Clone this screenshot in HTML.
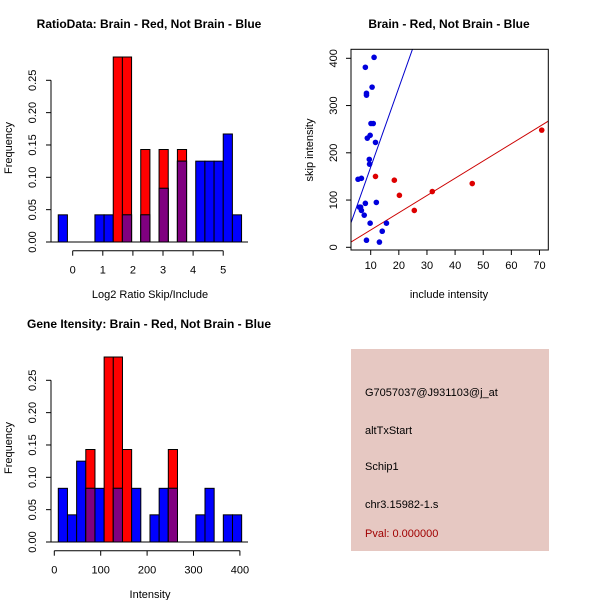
<!DOCTYPE html>
<html><head><meta charset="utf-8"><style>
body{margin:0;background:#fff}
svg{display:block;font-family:"Liberation Sans",sans-serif}
</style></head><body>
<svg id="c" width="600" height="600" xmlns="http://www.w3.org/2000/svg">
<rect width="600" height="600" fill="#fff"/>
<g id="p1"></g>
<g id="p2"></g>
<g id="p3"></g>
<g id="p4">
<rect x="351" y="349" width="198" height="202" fill="#E6C8C2"/>
<text x="365" y="396" font-size="11">G7057037@J931103@j_at</text>
<text x="365" y="434" font-size="11">altTxStart</text>
<text x="365" y="470" font-size="11">Schip1</text>
<text x="365" y="508" font-size="11">chr3.15982-1.s</text>
<text x="365" y="537" font-size="11" fill="#A00000">Pval: 0.000000</text>
</g>
</svg>
<script>
// Histogram 1 data
const h1Start = -0.48, h1Width = 0.3045;
const h1Blue = [0.042,0,0,0,0.042,0.042,0,0.042,0,0.042,0,0.083,0,0.125,0,0.125,0.125,0.125,0.167,0.042];
const h1Red  = [0,0,0,0,0,0,0.286,0.286,0,0.143,0,0.143,0,0.143,0,0,0,0,0,0];
const h1XTicks = [0,1,2,3,4,5];
const yTicks = [0,0.05,0.10,0.15,0.20,0.25];
const yTickLabels = ["0.00","0.05","0.10","0.15","0.20","0.25"];
// Histogram 3 data
const h3Start = 8.6, h3Width = 19.76;
const h3Blue = [0.083,0.042,0.125,0.083,0.083,0,0.083,0,0.083,0,0.042,0.083,0.083,0,0,0.042,0.083,0,0.042,0.042];
const h3Red  = [0,0,0,0.143,0,0.286,0.286,0.143,0,0,0,0,0.143,0,0,0,0,0,0,0];
const h3XTicks = [0,100,200,300,400];
// Scatter data
const blueX = [11.2,8.1,10.5,8.5,8.5,10.1,10.9,9.8,8.8,11.7,9.5,9.6,5.5,6.7,8.1,12.0,6.0,6.4,6.7,7.7,9.8,15.6,14.1,8.5,13.1];
const blueY = [402,381,339,326,322,262,262,237,231,222,186,176,144,146,93,95,85,85,78,68,51,51,34,15,11];
const redX = [11.7,18.4,20.2,25.5,31.9,46.1,70.8];
const redY = [150,142,110,78,118,135,248];
const blueFit = [1.7,16.8];
const redFit = [0.1,3.65];
const sXTicks = [10,20,30,40,50,60,70];
const sYTicks = [0,100,200,300,400];

const NS="http://www.w3.org/2000/svg";
function mk(parent,tag,attrs){const e=document.createElementNS(NS,tag);for(const k in attrs)e.setAttribute(k,attrs[k]);parent.appendChild(e);return e;}

function hist(g,start,width,blue,red,xTicks,x0px,xScale,yBase,title,xlab,hname){
  const X=v=>x0px+(v)*xScale;
  const Y=v=>yBase-v*(161.7/0.25);
  const t=mk(g,'text',{x:149,y:yBase-214,'font-size':12,'font-weight':'bold','text-anchor':'middle'});t.textContent=title;
  
  
  for(let i=0;i<blue.length;i++){
    const a=X(start+i*width), w=width*xScale;
    const b=blue[i], r=red[i], m=Math.min(b,r);
    if(r>0){const e=mk(g,'rect',{x:a,y:Y(r),width:w,height:Y(0)-Y(r),fill:'#FF0000',stroke:'#000','stroke-width':1});
      
      }
    if(b>0){const e=mk(g,'rect',{x:a,y:Y(b),width:w,height:Y(0)-Y(b),fill:'#0000FF',stroke:'#000','stroke-width':1});
      
      }
    if(m>0){const e=mk(g,'rect',{x:a,y:Y(m),width:w,height:Y(0)-Y(m),fill:'#800080',stroke:'#000','stroke-width':1});
      
      }
  }
  mk(g,'line',{x1:51,x2:248,y1:yBase,y2:yBase,stroke:'#000'});
  const ya=mk(g,'line',{x1:51,x2:51,y1:Y(0),y2:Y(0.25),stroke:'#000'});
  
  
  yTicks.forEach((v,i)=>{mk(g,'line',{x1:46,x2:51,y1:Y(v),y2:Y(v),stroke:'#000'});
    const tl=mk(g,'text',{x:0,y:0,'font-size':11,'text-anchor':'middle',transform:`translate(36,${Y(v)}) rotate(-90)`});tl.textContent=yTickLabels[i];
    
    });
  const yl=mk(g,'text',{x:0,y:0,'font-size':11,'text-anchor':'middle',transform:`translate(12,${yBase-94}) rotate(-90)`});yl.textContent='Frequency';
  
  
  const ay=yBase+8.7;
  const xa=mk(g,'line',{x1:X(xTicks[0]),x2:X(xTicks[xTicks.length-1]),y1:ay,y2:ay,stroke:'#000'});
  
  
  xTicks.forEach(v=>{mk(g,'line',{x1:X(v),x2:X(v),y1:ay,y2:ay+5,stroke:'#000'});
    const tl=mk(g,'text',{x:X(v),y:ay+23,'font-size':11,'text-anchor':'middle'});tl.textContent=String(v);
    
    });
  const xl=mk(g,'text',{x:150,y:yBase+56,'font-size':11,'text-anchor':'middle'});xl.textContent=xlab;
  
  
}
hist(document.getElementById('p1'),h1Start,h1Width,h1Blue,h1Red,h1XTicks,72.7,30.1,242,'RatioData: Brain - Red, Not Brain - Blue','Log2 Ratio Skip/Include','ratio');
hist(document.getElementById('p3'),h3Start,h3Width,h3Blue,h3Red,h3XTicks,54.3,0.464,542,'Gene Itensity: Brain - Red, Not Brain - Blue','Intensity','intensity');

// Scatter
(function(){
  const g=document.getElementById('p2');
  const L=351,R=548.3,T=49.3,B=250;
  const X=v=>370.7+(v-10)*2.813;
  const Y=v=>247.3-v*0.4725;
  const t=mk(g,'text',{x:449,y:28,'font-size':12,'font-weight':'bold','text-anchor':'middle'});t.textContent='Brain - Red, Not Brain - Blue';
  
  
  const cp=mk(g,'clipPath',{id:'cl'});mk(cp,'rect',{x:L,y:T,width:R-L,height:B-T});
  const lg=mk(g,'g',{'clip-path':'url(#cl)'});
  const x0=0,x1=80;
  const bl=mk(lg,'line',{x1:X(x0),y1:Y(blueFit[0]+blueFit[1]*x0),x2:X(x1),y2:Y(blueFit[0]+blueFit[1]*x1),stroke:'#0000CC'});
  
  
  const rl=mk(lg,'line',{x1:X(x0),y1:Y(redFit[0]+redFit[1]*x0),x2:X(x1),y2:Y(redFit[0]+redFit[1]*x1),stroke:'#CC0000'});
  
  
  blueX.forEach((v,i)=>{const c=mk(g,'circle',{cx:X(v),cy:Y(blueY[i]),r:2.8,fill:'#0000DD'});
    
    });
  redX.forEach((v,i)=>{const c=mk(g,'circle',{cx:X(v),cy:Y(redY[i]),r:2.8,fill:'#DD0000'});
    
    });
  const bx=mk(g,'rect',{x:L,y:T,width:R-L,height:B-T,fill:'none',stroke:'#000'});
  
  
  sXTicks.forEach(v=>{mk(g,'line',{x1:X(v),x2:X(v),y1:B,y2:B+5,stroke:'#000'});
    const tl=mk(g,'text',{x:X(v),y:B+19,'font-size':11,'text-anchor':'middle'});tl.textContent=String(v);
    
    });
  sYTicks.forEach(v=>{mk(g,'line',{x1:L-5,x2:L,y1:Y(v),y2:Y(v),stroke:'#000'});
    const tl=mk(g,'text',{x:0,y:0,'font-size':11,'text-anchor':'middle',transform:`translate(337,${Y(v)}) rotate(-90)`});tl.textContent=String(v);
    
    });
  const xl=mk(g,'text',{x:449,y:298,'font-size':11,'text-anchor':'middle'});xl.textContent='include intensity';
  
  
  const yl=mk(g,'text',{x:0,y:0,'font-size':11,'text-anchor':'middle',transform:'translate(313,150) rotate(-90)'});yl.textContent='skip intensity';
  
  
})();
</script>
</body></html>
